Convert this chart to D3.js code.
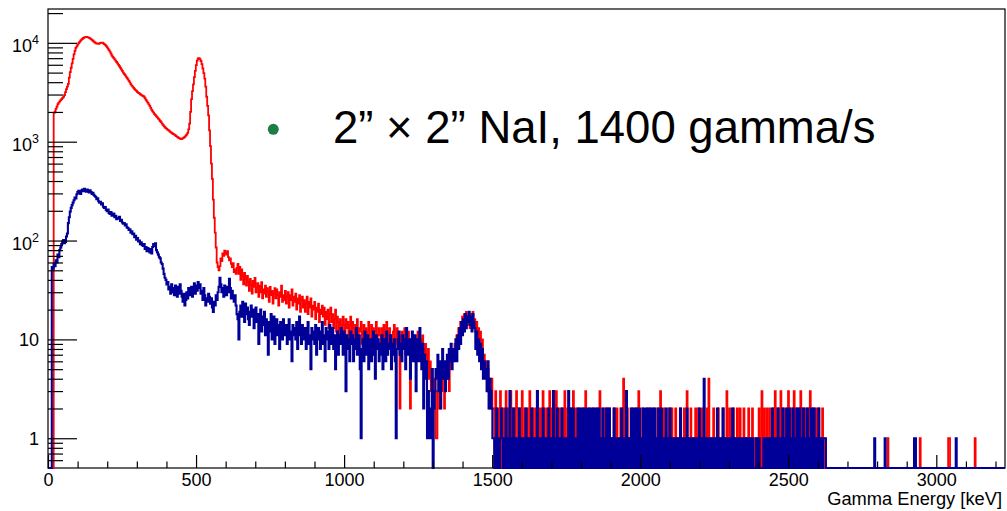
<!DOCTYPE html>
<html>
<head>
<meta charset="utf-8">
<script src="https://cdn.jsdelivr.net/npm/d3@7/dist/d3.min.js"></script>
<style>
  html, body { margin: 0; padding: 0; background: #fff; }
  svg { display: block; font-family: "Liberation Sans", Arial, Helvetica, sans-serif; }
</style>
</head>
<body>
<svg id="chart" width="1007" height="511"></svg>
<script>
// Gamma spectra, 3.2 keV bins from 0 to 3232 keV (ten bins per row)
const binWidth = 3.2;
const energyMax = 3232;

// Red spectrum, 0 - 640 keV
const redLow = [
  0, 0, 0, 0, 0, 0, 1960, 2010, 2150, 2260,
  2400, 2480, 2560, 2630, 2700, 2780, 2850, 2960, 3180, 3400,
  3600, 3850, 4450, 5050, 5600, 6200, 6900, 7650, 8300, 8900,
  9200, 9600, 9950, 10250, 10550, 10800, 11000, 11200, 11350, 11450,
  11500, 11400, 11350, 11250, 11100, 10900, 10700, 10500, 10300, 10100,
  9950, 9850, 9800, 9750, 9900, 10000, 10050, 10050, 9900, 9700,
  9550, 9300, 9000, 8750, 8450, 8150, 7800, 7450, 7200, 7000,
  6800, 6600, 6400, 6200, 6000, 5800, 5600, 5400, 5200, 5000,
  4850, 4720, 4560, 4420, 4280, 4120, 3980, 3820, 3700, 3600,
  3500, 3400, 3320, 3260, 3180, 3120, 3080, 3020, 2980, 2920,
  2900, 2850, 2750, 2650, 2560, 2480, 2390, 2300, 2200, 2100,
  2030, 1970, 1900, 1860, 1800, 1760, 1710, 1670, 1620, 1580,
  1520, 1480, 1440, 1400, 1370, 1350, 1320, 1300, 1270, 1250,
  1230, 1210, 1195, 1180, 1160, 1140, 1120, 1100, 1085, 1075,
  1065, 1070, 1085, 1100, 1120, 1150, 1180, 1230, 1330, 1520,
  2000, 2700, 3250, 3800, 4500, 5200, 5950, 6600, 6950, 7000,
  6850, 6550, 6100, 5500, 4950, 4350, 3600, 2850, 2300, 1850,
  1300, 900, 600, 420, 260, 170, 120, 85, 60, 54,
  50, 55, 66, 62, 74, 70, 79, 76, 72, 78,
  68, 63, 66, 58, 54, 59, 48, 51, 46, 53
];
// Red spectrum, 640 - 1504 keV
const redMid = [
  58, 46, 54, 40, 51, 44, 36, 47, 41, 35,
  44, 38, 31, 41, 36, 29, 39, 34, 42, 30,
  33, 37, 27, 35, 30, 38, 26, 32, 29, 35,
  27, 33, 30, 24, 34, 28, 31, 23, 29, 33,
  26, 32, 28, 22, 30, 27, 35, 24, 28, 25,
  31, 23, 27, 30, 21, 28, 25, 32, 22, 27,
  24, 29, 20, 26, 23, 28, 19, 25, 27, 21,
  25, 19, 23, 27, 18, 24, 21, 26, 17, 22,
  20, 24, 16, 21, 19, 23, 15, 20, 18, 22,
  17, 21, 14, 19, 16, 20, 13, 18, 21, 15,
  18, 13, 16, 20, 12, 17, 15, 11, 16, 14,
  12, 17, 14, 11, 16, 13, 15, 10, 14, 17,
  11, 15, 13, 9, 14, 12, 16, 10, 13, 12,
  15, 9, 12, 14, 10, 13, 8, 12, 15, 10,
  9, 14, 11, 13, 7, 12, 15, 9, 11, 13,
  11, 8, 13, 10, 14, 9, 12, 15, 8, 11,
  13, 9, 11, 7, 12, 14, 8, 10, 13, 9,
  11, 2, 9, 12, 8, 10, 13, 7, 11, 9,
  12, 8, 2, 10, 7, 11, 9, 6, 10, 8,
  12, 9, 7, 10, 6, 11, 8, 5, 9, 7,
  5, 8, 4, 6, 3, 5, 2, 4, 3, 1,
  1, 3, 4, 2, 5, 3, 6, 4, 2, 5,
  4, 6, 5, 3, 7, 5, 8, 6, 7, 9,
  7, 11, 9, 13, 10, 15, 12, 17, 14, 18,
  15, 19, 14, 17, 18, 13, 18, 15, 19, 14,
  16, 12, 15, 10, 13, 9, 12, 7, 10, 6,
  7, 5, 6, 3, 5, 4, 2, 3, 4, 2
];
// Red spectrum, 1504 - 3232 keV
const redHigh = [
  2, 0, 3, 1, 2, 0, 1, 3, 2, 0,
  1, 2, 0, 3, 1, 0, 2, 1, 3, 0,
  2, 1, 0, 2, 3, 1, 0, 2, 1, 0,
  3, 0, 1, 2, 0, 2, 1, 0, 3, 1,
  0, 2, 1, 0, 2, 1, 3, 0, 1, 2,
  1, 0, 3, 2, 0, 1, 2, 0, 1, 3,
  0, 2, 1, 0, 2, 0, 3, 1, 0, 2,
  1, 0, 2, 1, 0, 3, 1, 0, 2, 1,
  0, 2, 0, 1, 3, 0, 1, 2, 0, 1,
  2, 0, 1, 0, 2, 1, 0, 3, 1, 0,
  1, 2, 0, 1, 0, 2, 1, 0, 1, 2,
  0, 1, 3, 0, 1, 0, 2, 1, 0, 2,
  1, 0, 2, 1, 0, 1, 0, 2, 1, 0,
  2, 1, 0, 1, 2, 0, 1, 4, 0, 1,
  0, 2, 1, 0, 1, 0, 2, 1, 0, 1,
  2, 0, 1, 3, 0, 1, 0, 2, 1, 0,
  1, 0, 2, 0, 1, 2, 0, 1, 0, 2,
  0, 1, 0, 2, 1, 0, 3, 0, 1, 0,
  2, 1, 0, 1, 0, 2, 0, 1, 2, 0,
  1, 0, 2, 0, 1, 0, 1, 2, 0, 1,
  0, 2, 1, 0, 3, 0, 1, 0, 2, 1,
  0, 1, 0, 2, 0, 1, 2, 0, 1, 0,
  2, 0, 1, 0, 1, 2, 0, 4, 1, 0,
  1, 0, 2, 1, 0, 1, 0, 2, 0, 1,
  0, 1, 2, 0, 1, 0, 3, 1, 0, 2,
  1, 0, 1, 2, 0, 1, 0, 2, 1, 0,
  2, 0, 1, 0, 2, 1, 0, 1, 0, 2,
  0, 1, 0, 2, 0, 0, 1, 0, 0, 1,
  2, 1, 0, 3, 0, 2, 1, 0, 2, 0,
  1, 2, 0, 1, 0, 2, 0, 3, 1, 0,
  2, 0, 1, 3, 0, 1, 2, 0, 1, 0,
  2, 3, 0, 1, 2, 0, 1, 3, 0, 2,
  1, 0, 2, 1, 3, 0, 2, 1, 0, 2,
  0, 2, 1, 0, 3, 1, 0, 2, 1, 0,
  2, 0, 1, 2, 0, 1, 0, 2, 1, 0,
  0, 0, 0, 0, 0, 0, 0, 0, 0, 0,
  0, 0, 0, 0, 0, 0, 0, 0, 0, 0,
  0, 0, 0, 0, 0, 0, 0, 0, 0, 0,
  0, 0, 0, 0, 0, 0, 0, 0, 0, 0,
  0, 0, 0, 0, 0, 0, 0, 0, 0, 0,
  0, 0, 0, 0, 0, 0, 0, 0, 0, 0,
  0, 0, 0, 0, 0, 0, 1, 0, 0, 0,
  0, 0, 0, 0, 0, 0, 0, 0, 0, 0,
  0, 0, 0, 0, 0, 0, 0, 0, 0, 0,
  0, 0, 0, 0, 0, 0, 0, 0, 0, 0,
  1, 0, 0, 0, 0, 0, 0, 0, 0, 0,
  0, 0, 0, 0, 0, 0, 0, 0, 0, 0,
  0, 0, 0, 0, 0, 0, 0, 0, 0, 0,
  1, 1, 0, 0, 0, 0, 0, 0, 0, 0,
  0, 0, 0, 0, 0, 0, 0, 0, 0, 0,
  0, 0, 0, 0, 0, 0, 0, 0, 1, 0,
  0, 0, 0, 0, 0, 0, 0, 0, 0, 0,
  0, 0, 0, 0, 0, 0, 0, 0, 0, 0,
  0, 0, 0, 0, 0, 0, 0, 0, 0, 0
];

// Blue spectrum, 0 - 640 keV
const blueLow = [
  0, 0, 0, 0, 54, 52, 58, 55, 63, 60,
  72, 68, 80, 85, 92, 98, 101, 94, 97, 110,
  118, 150, 172, 196, 214, 228, 242, 256, 272, 266,
  294, 310, 318, 302, 296, 320, 328, 316, 334, 322,
  312, 328, 318, 306, 322, 310, 296, 304, 290, 282,
  276, 262, 268, 250, 242, 246, 232, 238, 220, 214,
  218, 204, 198, 206, 190, 186, 194, 178, 184, 188,
  172, 178, 164, 170, 166, 174, 158, 162, 152, 148,
  150, 142, 146, 136, 134, 128, 130, 120, 124, 116,
  118, 108, 112, 102, 106, 98, 100, 92, 96, 90,
  88, 92, 82, 86, 78, 84, 80, 76, 82, 74,
  86, 92, 88, 94, 80, 76, 72, 68, 66, 60,
  58, 52, 46, 42, 40, 36, 38, 32, 34, 29,
  36, 30, 33, 28, 35, 31, 27, 34, 29, 36,
  31, 27, 24, 29, 22, 25, 30, 26, 33, 28,
  30, 34, 27, 32, 37, 29, 35, 31, 38, 33,
  36, 29, 31, 25, 33, 28, 22, 26, 24, 29,
  27, 23, 26, 21, 19, 24, 22, 28, 25, 30,
  34, 42, 36, 30, 33, 27, 35, 31, 28, 34,
  30, 41, 33, 26, 31, 27, 24, 28, 22, 18
];
// Blue spectrum, 640 - 1504 keV
const blueMid = [
  16, 10, 19, 22, 17, 24, 20, 15, 23, 18,
  21, 16, 14, 19, 22, 17, 20, 13, 18, 21,
  15, 18, 9, 16, 20, 12, 17, 14, 19, 11,
  16, 13, 7, 15, 12, 18, 10, 14, 17, 9,
  13, 16, 11, 14, 8, 15, 12, 10, 16, 13,
  11, 14, 9, 13, 16, 10, 12, 6, 14, 11,
  13, 10, 15, 8, 12, 17, 11, 9, 14, 12,
  10, 13, 8, 12, 15, 9, 11, 5, 13, 10,
  12, 9, 14, 7, 11, 13, 10, 8, 12, 15,
  9, 11, 6, 13, 10, 12, 8, 14, 9, 11,
  13, 8, 11, 5, 10, 12, 7, 11, 9, 13,
  10, 7, 12, 9, 3, 11, 8, 10, 6, 12,
  9, 11, 6, 10, 8, 13, 7, 9, 11, 5,
  1, 8, 10, 6, 12, 9, 7, 11, 5, 9,
  10, 6, 9, 12, 7, 4, 11, 8, 10, 6,
  9, 7, 11, 5, 8, 10, 6, 12, 7, 9,
  8, 11, 5, 9, 7, 10, 6, 1, 8, 10,
  12, 7, 9, 6, 11, 8, 10, 5, 13, 9,
  7, 10, 4, 9, 12, 6, 8, 11, 3, 7,
  10, 6, 13, 8, 5, 9, 2, 7, 4, 6,
  1, 3, 1, 2, 1, 5, 0, 2, 3, 5,
  4, 7, 3, 6, 2, 5, 8, 4, 6, 3,
  5, 7, 4, 8, 6, 9, 5, 7, 8, 6,
  10, 6, 11, 8, 13, 9, 15, 11, 16, 12,
  18, 13, 17, 15, 19, 14, 17, 12, 18, 15,
  13, 8, 12, 7, 10, 6, 9, 5, 8, 4,
  6, 4, 5, 3, 6, 2, 4, 3, 2, 1
];
// Blue spectrum, 1504 - 3232 keV
const blueHigh = [
  1, 0, 1, 2, 0, 1, 0, 1, 2, 1,
  0, 1, 0, 2, 1, 0, 1, 3, 0, 1,
  0, 2, 1, 0, 1, 0, 1, 2, 0, 1,
  0, 1, 0, 1, 2, 0, 1, 0, 1, 0,
  2, 1, 0, 1, 0, 1, 3, 0, 1, 0,
  1, 0, 2, 0, 1, 0, 1, 0, 2, 1,
  0, 1, 0, 3, 1, 0, 1, 2, 0, 1,
  0, 1, 2, 0, 1, 0, 1, 0, 1, 3,
  0, 2, 1, 0, 2, 1, 0, 1, 0, 2,
  1, 0, 2, 1, 0, 2, 0, 1, 2, 0,
  2, 1, 0, 2, 0, 1, 2, 0, 1, 2,
  0, 2, 1, 0, 1, 2, 0, 1, 0, 2,
  1, 0, 2, 0, 1, 0, 1, 2, 0, 1,
  0, 1, 0, 1, 0, 2, 1, 0, 1, 0,
  3, 1, 0, 1, 0, 2, 0, 1, 2, 0,
  1, 2, 0, 1, 2, 0, 1, 0, 2, 1,
  0, 2, 1, 0, 2, 0, 1, 2, 0, 1,
  2, 0, 1, 0, 2, 1, 0, 2, 0, 1,
  0, 1, 2, 0, 1, 0, 2, 0, 1, 0,
  1, 0, 1, 1, 0, 1, 0, 2, 1, 0,
  1, 0, 1, 0, 2, 0, 1, 0, 1, 0,
  1, 1, 0, 1, 0, 1, 0, 2, 0, 1,
  0, 1, 4, 0, 1, 0, 1, 0, 1, 0,
  1, 0, 1, 0, 1, 0, 2, 0, 1, 0,
  1, 0, 2, 1, 0, 1, 0, 1, 0, 1,
  1, 0, 2, 0, 1, 0, 1, 0, 1, 0,
  1, 0, 1, 0, 1, 0, 1, 0, 0, 1,
  0, 1, 0, 1, 0, 0, 0, 1, 0, 0,
  1, 0, 0, 0, 0, 1, 0, 1, 0, 1,
  0, 1, 0, 1, 2, 0, 1, 0, 1, 0,
  2, 0, 1, 0, 1, 2, 0, 1, 0, 2,
  0, 1, 2, 0, 1, 0, 2, 1, 0, 1,
  2, 0, 1, 2, 0, 1, 0, 2, 1, 0,
  1, 2, 0, 1, 0, 2, 1, 0, 2, 1,
  0, 1, 0, 2, 1, 0, 1, 0, 1, 1,
  1, 0, 0, 0, 0, 0, 0, 0, 0, 0,
  0, 0, 0, 0, 0, 0, 0, 0, 0, 0,
  0, 0, 0, 0, 0, 0, 0, 0, 0, 0,
  0, 0, 0, 0, 0, 0, 0, 0, 0, 0,
  0, 0, 0, 0, 0, 0, 0, 0, 0, 0,
  0, 0, 1, 0, 0, 0, 0, 0, 0, 0,
  0, 0, 0, 1, 0, 0, 0, 0, 0, 0,
  0, 0, 0, 0, 0, 0, 0, 0, 0, 0,
  0, 0, 0, 0, 0, 0, 0, 0, 0, 0,
  0, 0, 0, 0, 1, 1, 0, 0, 0, 0,
  0, 0, 0, 0, 0, 0, 0, 0, 0, 0,
  0, 0, 0, 0, 0, 0, 0, 0, 0, 0,
  0, 0, 0, 0, 0, 0, 0, 0, 0, 0,
  0, 0, 0, 0, 0, 0, 0, 0, 1, 0,
  0, 0, 0, 0, 0, 0, 0, 0, 0, 0,
  0, 0, 0, 0, 0, 0, 0, 0, 0, 0,
  0, 0, 0, 0, 0, 0, 0, 0, 0, 0,
  0, 0, 0, 0, 0, 0, 0, 0, 0, 0,
  0, 0, 0, 0, 0, 0, 0, 0, 0, 0
];

// Axis ticks and labels
const xMajorTicks = [0, 500, 1000, 1500, 2000, 2500, 3000];
const xMinorTicks = [100, 200, 300, 400, 600, 700, 800, 900, 1100, 1200, 1300, 1400,
  1600, 1700, 1800, 1900, 2100, 2200, 2300, 2400, 2600, 2700, 2800, 2900, 3100, 3200];
const yMajorTicks = [1, 10, 100, 1000, 10000];
const yTickBase = ["1", "10", "10", "10", "10"];
const yTickExp = ["", "", "2", "3", "4"];
const yMinorTicks = [0.6, 0.7, 0.8, 0.9, 2, 3, 4, 5, 6, 7, 8, 9,
  20, 30, 40, 50, 60, 70, 80, 90, 200, 300, 400, 500, 600, 700, 800, 900,
  2000, 3000, 4000, 5000, 6000, 7000, 8000, 9000, 20000];
const yRange = [0.5, 22000];
const xTitle = "Gamma Energy [keV]";
const legendLabel = "2\u201D \u00D7 2\u201D NaI, 1400 gamma/s";

const redCounts = redLow.concat(redMid, redHigh);
const blueCounts = blueLow.concat(blueMid, blueHigh);

const svg = d3.select("#chart");
const frame = { left: 48, right: 1005, top: 9, bottom: 468 };

const x = d3.scaleLinear().domain([0, energyMax]).range([frame.left, frame.right]);
const y = d3.scaleLog().domain(yRange).range([frame.bottom, frame.top]);

// Frame
svg.append("rect")
  .attr("x", frame.left).attr("y", frame.top)
  .attr("width", frame.right - frame.left).attr("height", frame.bottom - frame.top)
  .attr("fill", "none").attr("stroke", "#000").attr("stroke-width", 1.2);

svg.append("defs").append("clipPath").attr("id", "plotClip")
  .append("rect")
  .attr("x", frame.left).attr("y", frame.top)
  .attr("width", frame.right - frame.left).attr("height", frame.bottom - frame.top + 2);

// Histogram outline: each bin is a flat step; empty bins sit on the frame floor
function stepPoints(counts) {
  const pts = counts.map((c, i) => [i * binWidth, c]);
  pts.push([counts.length * binWidth, counts[counts.length - 1]]);
  return pts;
}
const histLine = d3.line()
  .x(d => x(Math.min(d[0], energyMax)))
  .y(d => d[1] > 0 ? y(d[1]) : frame.bottom)
  .curve(d3.curveStepAfter);

const plot = svg.append("g").attr("clip-path", "url(#plotClip)");
plot.append("path")
  .attr("d", histLine(stepPoints(redCounts)))
  .attr("fill", "none").attr("stroke", "#ff0000").attr("stroke-width", 1.8)
  .attr("stroke-linejoin", "miter");
plot.append("path")
  .attr("d", histLine(stepPoints(blueCounts)))
  .attr("fill", "none").attr("stroke", "#000099").attr("stroke-width", 2.1)
  .attr("stroke-linejoin", "miter");

// X axis ticks (inward) and labels
const xAxisMajor = svg.append("g")
  .attr("transform", `translate(0,${frame.bottom})`)
  .call(d3.axisBottom(x).tickValues(xMajorTicks).tickSizeInner(-13).tickSizeOuter(0)
    .tickPadding(5).tickFormat(d3.format("d")));
const xAxisMinor = svg.append("g")
  .attr("transform", `translate(0,${frame.bottom})`)
  .call(d3.axisBottom(x).tickValues(xMinorTicks).tickSizeInner(-6.5).tickSizeOuter(0)
    .tickFormat(""));

// Y axis ticks (inward)
const yAxisMajor = svg.append("g")
  .attr("transform", `translate(${frame.left},0)`)
  .call(d3.axisLeft(y).tickValues(yMajorTicks).tickSizeInner(-29).tickSizeOuter(0)
    .tickFormat(""));
const yAxisMinor = svg.append("g")
  .attr("transform", `translate(${frame.left},0)`)
  .call(d3.axisLeft(y).tickValues(yMinorTicks).tickSizeInner(-15).tickSizeOuter(0)
    .tickFormat(""));

[xAxisMajor, xAxisMinor, yAxisMajor, yAxisMinor].forEach(g => {
  g.select(".domain").remove();
  g.selectAll(".tick line").attr("stroke", "#000").attr("stroke-width", 1.2);
});
xAxisMajor.selectAll(".tick text")
  .attr("fill", "#000").attr("font-size", 18)
  .attr("font-family", "'Liberation Sans', Arial, Helvetica, sans-serif");

// Y tick labels with powers of ten
const yLabels = svg.append("g").attr("font-size", 18).attr("fill", "#000");
yMajorTicks.forEach((v, i) => {
  const t = yLabels.append("text")
    .attr("text-anchor", "end")
    .attr("x", 39)
    .attr("y", y(v) + (yTickExp[i] ? 9.5 : 6.5));
  t.append("tspan").text(yTickBase[i]);
  if (yTickExp[i]) {
    t.append("tspan").attr("font-size", 12.5).attr("dy", -8).text(yTickExp[i]);
  }
});

// X axis title
svg.append("text")
  .attr("x", 1002).attr("y", 505)
  .attr("text-anchor", "end").attr("font-size", 18.3).attr("fill", "#000")
  .text(xTitle);

// Legend entry
svg.append("circle")
  .attr("cx", 273.3).attr("cy", 129.3).attr("r", 5.5)
  .attr("fill", "#1e7d44");
svg.append("text")
  .attr("x", 333).attr("y", 143)
  .attr("font-size", 45.5).attr("fill", "#000")
  .text(legendLabel);
</script>
</body>
</html>
